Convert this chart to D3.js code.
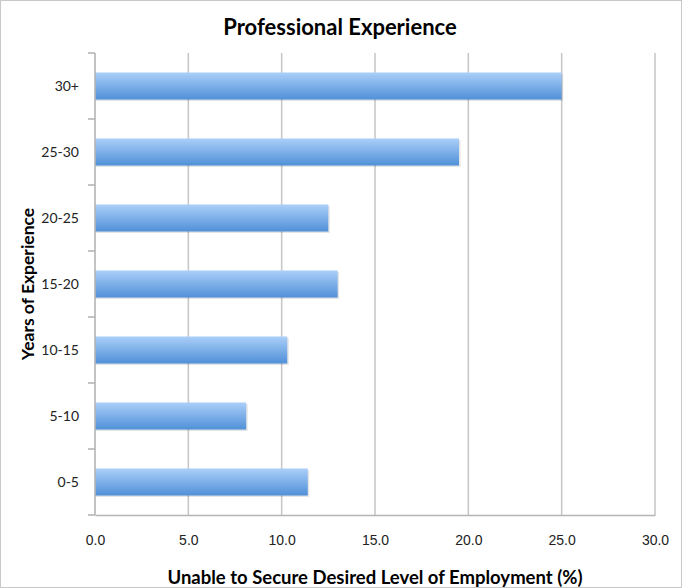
<!DOCTYPE html>
<html>
<head>
<meta charset="utf-8">
<script src="https://cdn.jsdelivr.net/npm/d3@7"></script>
<style>
  body { margin: 0; background: #fff; }
  svg { display: block; font-family: Lato, "Open Sans", sans-serif; }
</style>
</head>
<body>
<svg width="682" height="588"></svg>
<script>

// categories bottom to top as drawn
var categories = ["0-5", "5-10", "10-15", "15-20", "20-25", "25-30", "30+"];
var values = [11.4, 8.1, 10.3, 13.0, 12.5, 19.5, 25.0];
var xTicks = [0, 5, 10, 15, 20, 25, 30];

var svg = d3.select("svg"),
    margin = {top: 53, right: 27, bottom: 73, left: 95},
    width = +svg.attr("width") - margin.left - margin.right,
    height = +svg.attr("height") - margin.top - margin.bottom;

// outer frame
svg.append("rect")
    .attr("x", 0.5).attr("y", 0.5)
    .attr("width", 681).attr("height", 587)
    .attr("fill", "#fff")
    .attr("stroke", "#c8c8c8");

var defs = svg.append("defs");
var grad = defs.append("linearGradient")
    .attr("id", "barGrad")
    .attr("x1", 0).attr("y1", 0).attr("x2", 0).attr("y2", 1);
grad.append("stop").attr("offset", "0%").attr("stop-color", "#abcff9");
grad.append("stop").attr("offset", "100%").attr("stop-color", "#5090d8");

var g = svg.append("g").attr("transform", "translate(" + margin.left + "," + margin.top + ")");

var x = d3.scaleLinear()
    .domain([0, 30])
    .range([0, width]);

var y = d3.scaleBand()
    .domain(categories.slice().reverse())
    .range([0, height])
    .paddingInner(0.59)
    .paddingOuter(0.295);

// gridlines
g.append("g")
    .attr("class", "grid")
  .selectAll("line")
  .data(xTicks.slice(1))
  .enter().append("line")
    .attr("x1", function(d) { return x(d); })
    .attr("x2", function(d) { return x(d); })
    .attr("y1", 0)
    .attr("y2", height)
    .attr("stroke", "#c8c8c8")
    .attr("stroke-width", 1.6);

// bars (shadow first)
g.append("g")
  .selectAll("rect")
  .data(values)
  .enter().append("rect")
    .attr("x", 0)
    .attr("y", function(d, i) { return y(categories[i]) + 1.5; })
    .attr("width", function(d) { return x(d) + 1.5; })
    .attr("height", y.bandwidth())
    .attr("fill", "#000")
    .attr("opacity", 0.1);

g.append("g")
  .selectAll("rect")
  .data(values)
  .enter().append("rect")
    .attr("x", 0)
    .attr("y", function(d, i) { return y(categories[i]); })
    .attr("width", function(d) { return x(d); })
    .attr("height", y.bandwidth())
    .attr("fill", "url(#barGrad)");

// x axis
var xAxis = d3.axisBottom(x)
    .tickValues(xTicks)
    .tickFormat(d3.format(".1f"))
    .tickSize(0)
    .tickPadding(20);

var gx = g.append("g")
    .attr("transform", "translate(0," + height + ")")
    .call(xAxis);
gx.select(".domain").attr("stroke", "#b4b4b4").attr("stroke-width", 1.6);
gx.selectAll("text").attr("font-size", "14px").attr("fill", "#222");

// y axis, ticks on band edges
var edges = d3.range(categories.length + 1).map(function(i) { return i * height / categories.length; });
var gy = g.append("g");
gy.append("line")
    .attr("x1", 0).attr("x2", 0).attr("y1", 0).attr("y2", height)
    .attr("stroke", "#b4b4b4").attr("stroke-width", 1.6);
gy.selectAll(".tk")
  .data(edges)
  .enter().append("line")
    .attr("class", "tk")
    .attr("x1", -7).attr("x2", 0)
    .attr("y1", function(d) { return d; })
    .attr("y2", function(d) { return d; })
    .attr("stroke", "#b4b4b4").attr("stroke-width", 1.6);
gy.selectAll("text")
  .data(categories)
  .enter().append("text")
    .attr("x", -16)
    .attr("y", function(d) { return y(d) + y.bandwidth() / 2; })
    .attr("dy", "0.35em")
    .attr("text-anchor", "end")
    .attr("font-size", "14px")
    .attr("fill", "#222")
    .text(function(d) { return d; });

// titles
svg.append("text")
    .attr("x", 340)
    .attr("y", 35)
    .attr("text-anchor", "middle")
    .attr("font-size", "22px")
    .attr("font-weight", "bold")
    .text("Professional Experience");

svg.append("text")
    .attr("x", margin.left + width / 2)
    .attr("y", 584)
    .attr("text-anchor", "middle")
    .attr("font-size", "18.5px")
    .attr("font-weight", "bold")
    .text("Unable to Secure Desired Level of Employment (%)");

svg.append("text")
    .attr("transform", "translate(34," + (margin.top + height / 2) + ") rotate(-90)")
    .attr("text-anchor", "middle")
    .attr("font-size", "17.5px")
    .attr("font-weight", "bold")
    .text("Years of Experience");

</script>
</body>
</html>
